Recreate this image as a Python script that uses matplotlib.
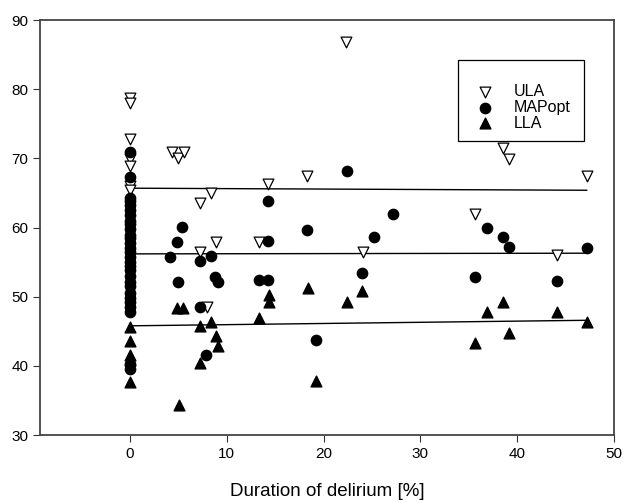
import numpy as np
import matplotlib.pyplot as plt
from matplotlib.patches import Rectangle

plt.rcParams['font.family'] = ['Liberation Sans', 'DejaVu Sans']

# ULA (upper limit of autoregulation)
ula_x = [0, 0, 0, 0, 0, 0, 0, 4.3, 5.0, 5.6, 7.2, 7.2, 7.9, 8.4, 8.9,
         13.3, 14.3, 18.3, 22.3, 24.1, 35.6, 38.5, 39.2, 44.1, 47.2]
ula_y = [78.7, 78.0, 72.8, 69.9, 68.9, 66.0, 65.5, 71.0, 70.0, 71.0, 63.5, 56.5, 48.5, 65.0, 57.9,
         57.9, 66.3, 67.4, 86.9, 56.5, 62.0, 71.5, 69.9, 56.0, 67.4]

# MAPopt
map_x = [0] * 29 + [5.4, 4.8, 4.1, 7.2, 8.4, 5.0, 8.8, 9.1, 13.3, 7.2, 7.8,
                    14.3, 18.3, 14.3, 27.2, 25.2, 24.0, 14.3, 19.2, 22.4,
                    36.9, 38.5, 39.2, 47.2, 35.6, 44.1]
map_y = [71.0, 67.3, 64.3, 63.8, 63.2, 62.5, 61.8, 61.0, 60.5, 59.8, 59.0, 58.5,
         57.8, 57.0, 56.5, 55.8, 55.0, 54.5, 53.8, 53.0, 52.2, 51.5, 50.5, 49.8,
         49.2, 48.5, 47.8, 40.3, 39.6,
         60.1, 57.9, 55.7, 55.2, 55.9, 52.1, 52.9, 52.1, 52.4, 48.5, 41.6,
         63.8, 59.7, 58.1, 62.0, 58.6, 53.4, 52.4, 43.8, 68.2,
         59.9, 58.6, 57.2, 57.0, 52.9, 52.3]

# LLA (lower limit of autoregulation)
lla_x = [0, 0, 0, 0, 0, 4.8, 5.5, 7.2, 8.4, 8.9, 9.1, 7.2, 5.1, 13.3,
         18.4, 14.4, 14.4, 22.4, 24.0, 19.2, 35.6, 36.9, 38.5, 39.2, 44.1, 47.2]
lla_y = [45.7, 43.6, 41.6, 40.8, 37.7, 48.4, 48.4, 45.8, 46.4, 44.3, 42.9, 40.4, 34.4, 46.9,
         51.3, 50.3, 49.2, 49.2, 50.8, 37.8, 43.3, 47.8, 49.3, 44.8, 47.8, 46.4]

# regression lines (end points)
fit_x = [0, 47.2]
ula_fit = [65.7, 65.4]
map_fit = [56.2, 56.3]
lla_fit = [45.8, 46.6]

fig = plt.figure(figsize=(6.27, 5.03), dpi=100)
ax = fig.add_axes([0.064, 0.135, 0.915, 0.825])

ax.plot(fit_x, ula_fit, color='black', lw=1.0, zorder=1)
ax.plot(fit_x, map_fit, color='black', lw=1.0, zorder=1)
ax.plot(fit_x, lla_fit, color='black', lw=1.0, zorder=1)

ax.scatter(ula_x, ula_y, marker='v', s=60, facecolors='white',
           edgecolors='black', linewidths=0.9, label='ULA', zorder=3)
ax.scatter(map_x, map_y, marker='o', s=55, color='black', label='MAPopt', zorder=3)
ax.scatter(lla_x, lla_y, marker='^', s=60, color='black', label='LLA', zorder=3)

ax.set_xlim(-9.3, 50)
ax.set_ylim(30, 90)
ax.set_xticks(np.arange(0, 51, 10))
ax.set_yticks(np.arange(30, 91, 10))
ax.tick_params(axis='both', direction='out', length=5, labelsize=11,
               top=False, right=False, color='#333333')
for sp in ax.spines.values():
    sp.set_color('#444444')
    sp.set_linewidth(1.3)

ax.set_xlabel('Duration of delirium [%]', fontsize=13.5, labelpad=16)

# legend box drawn separately, entries placed inside it
ax.add_patch(Rectangle((0.728, 0.708), 0.22, 0.196, transform=ax.transAxes,
                       facecolor='white', edgecolor='black', lw=0.9, zorder=4))
leg = ax.legend(loc='upper left', bbox_to_anchor=(0.761, 0.846),
                fontsize=11.5, frameon=False, borderpad=0, handlelength=1.0,
                handletextpad=1.3, labelspacing=0.05, scatterpoints=1,
                borderaxespad=0)
leg.set_zorder(5)

fig.savefig('out.png', dpi=100)
plt.close(fig)
